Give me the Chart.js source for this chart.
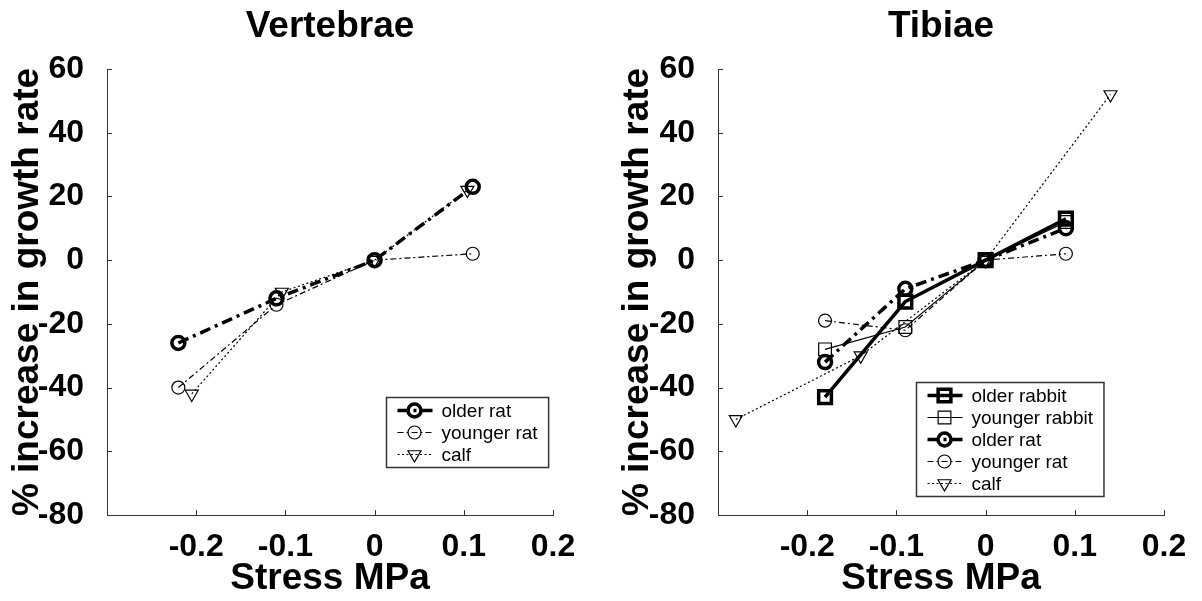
<!DOCTYPE html>
<html>
<head>
<meta charset="utf-8">
<script src="https://cdn.jsdelivr.net/npm/chart.js@4.4.0/dist/chart.umd.min.js"></script>
<style>
  html, body { margin: 0; padding: 0; background: #fff; }
  .panel { position: absolute; top: 0; width: 601px; height: 601px; }
  #leftPanel { left: 0; }
  #rightPanel { left: 601px; }
</style>
</head>
<body>
<div class="panel" id="leftPanel"><canvas id="vertebrae" width="601" height="601"></canvas></div>
<div class="panel" id="rightPanel"><canvas id="tibiae" width="601" height="601"></canvas></div>
<script>
// tick values
const xTicks = [-0.2, -0.1, 0, 0.1, 0.2];
const yMin = -80, yMax = 60, yStep = 20;

// Vertebrae
const vertOlderRatX = [-0.22, -0.11, 0, 0.11];
const vertOlderRatY = [-26, -12, 0, 23];
const vertYoungerRatX = [-0.22, -0.11, 0, 0.11];
const vertYoungerRatY = [-40, -14, 0, 2];
const vertCalfX = [-0.205, -0.104, 0, 0.104];
const vertCalfY = [-42, -10, 0, 22];

// Tibiae
const tibOlderRabbitX = [-0.18, -0.09, 0, 0.09];
const tibOlderRabbitY = [-43, -13, 0, 13];
const tibYoungerRabbitX = [-0.18, -0.09, 0, 0.09];
const tibYoungerRabbitY = [-28, -21, 0, 12];
const tibOlderRatX = [-0.18, -0.09, 0, 0.09];
const tibOlderRatY = [-32, -9, 0, 10];
const tibYoungerRatX = [-0.18, -0.09, 0, 0.09];
const tibYoungerRatY = [-19, -22, 0, 2];
const tibCalfX = [-0.28, -0.14, 0, 0.14];
const tibCalfY = [-50, -30, 0, 52];

const FONT = '"Liberation Sans", Arial, Helvetica, sans-serif';

const looks = {
    'older rabbit':   { borderWidth: 3.5, borderDash: [], pointStyle: 'rect', pointRadius: 9, pointBorderWidth: 3.5 },
    'younger rabbit': { borderWidth: 1.2, borderDash: [], pointStyle: 'rect', pointRadius: 9, pointBorderWidth: 1.2 },
    'older rat':      { borderWidth: 3.5, borderDash: [11, 5, 3, 5], pointStyle: 'circle', pointRadius: 6.5, pointBorderWidth: 3.5 },
    'younger rat':    { borderWidth: 1.2, borderDash: [6, 3, 2, 3], pointStyle: 'circle', pointRadius: 6.5, pointBorderWidth: 1.2 },
    'calf':           { borderWidth: 1.2, borderDash: [2, 2.5], pointStyle: 'triangle', pointRadius: 7.5, pointBorderWidth: 1.2, pointRotation: 180 }
};

function series(label, xs, ys) {
    return Object.assign({
        label: label,
        data: xs.map((x, i) => ({ x: x, y: ys[i] })),
        borderColor: '#000',
        pointBorderColor: '#000',
        pointBackgroundColor: 'rgba(0,0,0,0)',
        showLine: true,
        fill: false,
        tension: 0,
        clip: false
    }, looks[label]);
}

function drawMarker(ctx, d, x, y) {
    const r = d.pointRadius;
    ctx.beginPath();
    if (d.pointStyle === 'circle') {
        ctx.arc(x, y, r, 0, Math.PI * 2);
    } else if (d.pointStyle === 'rect') {
        const s = r * Math.SQRT1_2;
        ctx.rect(x - s, y - s, 2 * s, 2 * s);
    } else {
        const h = r * Math.sin(Math.PI / 3);
        ctx.moveTo(x, y + r);
        ctx.lineTo(x - h, y - r / 2);
        ctx.lineTo(x + h, y - r / 2);
        ctx.closePath();
    }
    ctx.lineWidth = d.pointBorderWidth;
    ctx.stroke();
}

// boxed legend inside the axes, MATLAB style
const boxLegend = {
    id: 'boxLegend',
    afterDraw(chart, args, opts) {
        const ctx = chart.ctx;
        const ca = chart.chartArea;
        const sets = chart.data.datasets;
        ctx.save();
        ctx.font = '19px ' + FONT;
        const textW = Math.max(...sets.map(d => ctx.measureText(d.label).width));
        const rowH = 22, padY = 2;
        const w = 55 + textW + 11;
        const h = sets.length * rowH + 2 * padY;
        const x0 = Math.round(ca.right - opts.right - w) + 0.5;
        const y0 = Math.round(ca.bottom - opts.bottom - h) + 0.5;
        ctx.fillStyle = '#fff';
        ctx.fillRect(x0, y0, w, h);
        ctx.strokeStyle = '#333';
        ctx.lineWidth = 1.5;
        ctx.strokeRect(x0, y0, w, h);
        sets.forEach((d, i) => {
            const cy = y0 + padY + rowH * (i + 0.5);
            ctx.strokeStyle = '#000';
            ctx.beginPath();
            ctx.setLineDash(d.borderDash || []);
            ctx.lineWidth = d.borderWidth;
            ctx.moveTo(x0 + 11, cy);
            ctx.lineTo(x0 + 46, cy);
            ctx.stroke();
            ctx.setLineDash([]);
            drawMarker(ctx, d, x0 + 28, cy);
            ctx.fillStyle = '#000';
            ctx.textBaseline = 'middle';
            ctx.fillText(d.label, x0 + 55, cy + 1);
        });
        ctx.restore();
    }
};

// short tick marks pointing into the plot
const innerTicks = {
    id: 'innerTicks',
    afterDatasetsDraw(chart) {
        const { ctx, chartArea: ca, scales: { x, y } } = chart;
        ctx.save();
        ctx.strokeStyle = '#333';
        ctx.lineWidth = 1;
        ctx.beginPath();
        x.ticks.forEach(t => {
            const px = Math.round(x.getPixelForValue(t.value)) + 0.5;
            ctx.moveTo(px, ca.bottom);
            ctx.lineTo(px, ca.bottom - 5);
        });
        y.ticks.forEach(t => {
            const py = Math.round(y.getPixelForValue(t.value)) + 0.5;
            ctx.moveTo(ca.left, py);
            ctx.lineTo(ca.left + 5, py);
        });
        ctx.stroke();
        ctx.restore();
    }
};

function makeChart(id, title, datasets, padLeft, padRight, legendPos) {
    return new Chart(document.getElementById(id), {
        type: 'scatter',
        data: { datasets: datasets },
        plugins: [innerTicks, boxLegend],
        options: {
            responsive: false,
            animation: false,
            devicePixelRatio: 1,
            layout: { padding: { left: padLeft, right: padRight, top: 0, bottom: 0 } },
            plugins: {
                legend: { display: false },
                tooltip: { enabled: false },
                title: {
                    display: true,
                    text: title,
                    fullSize: false,
                    color: '#000',
                    font: { family: FONT, size: 37, weight: 'bold' },
                    padding: { top: 5, bottom: 19.6 }
                },
                boxLegend: legendPos
            },
            scales: {
                x: {
                    type: 'linear',
                    min: -0.3,
                    max: 0.2,
                    afterBuildTicks: s => { s.ticks = xTicks.map(v => ({ value: v })); },
                    afterFit: s => { s.height = 86; },
                    grid: { display: false },
                    border: { display: true, color: '#333', width: 1 },
                    ticks: {
                        color: '#000',
                        padding: 5,
                        font: { family: FONT, size: 32, weight: 'bold' },
                        callback: v => String(v)
                    },
                    title: {
                        display: true,
                        text: 'Stress MPa',
                        color: '#000',
                        font: { family: FONT, size: 37, weight: 'bold' },
                        padding: { top: 0, bottom: 0 }
                    }
                },
                y: {
                    type: 'linear',
                    min: yMin,
                    max: yMax,
                    afterFit: s => { s.width = (id === 'vertebrae' ? 107 : 117) - padLeft; },
                    grid: { display: false },
                    border: { display: true, color: '#333', width: 1 },
                    ticks: {
                        stepSize: yStep,
                        color: '#000',
                        padding: 15,
                        font: { family: FONT, size: 32, weight: 'bold' }
                    },
                    title: {
                        display: true,
                        text: '% increase in growth rate',
                        color: '#000',
                        font: { family: FONT, size: 37, weight: 'bold' },
                        padding: { top: 0, bottom: 0 }
                    }
                }
            }
        }
    });
}

makeChart('vertebrae', 'Vertebrae', [
    series('older rat', vertOlderRatX, vertOlderRatY),
    series('younger rat', vertYoungerRatX, vertYoungerRatY),
    series('calf', vertCalfX, vertCalfY)
], 6, 48, { right: 5, bottom: 48 });

makeChart('tibiae', 'Tibiae', [
    series('older rabbit', tibOlderRabbitX, tibOlderRabbitY),
    series('younger rabbit', tibYoungerRabbitX, tibYoungerRabbitY),
    series('older rat', tibOlderRatX, tibOlderRatY),
    series('younger rat', tibYoungerRatX, tibYoungerRatY),
    series('calf', tibCalfX, tibCalfY)
], 15, 38, { right: 61, bottom: 19 });
</script>
</body>
</html>
